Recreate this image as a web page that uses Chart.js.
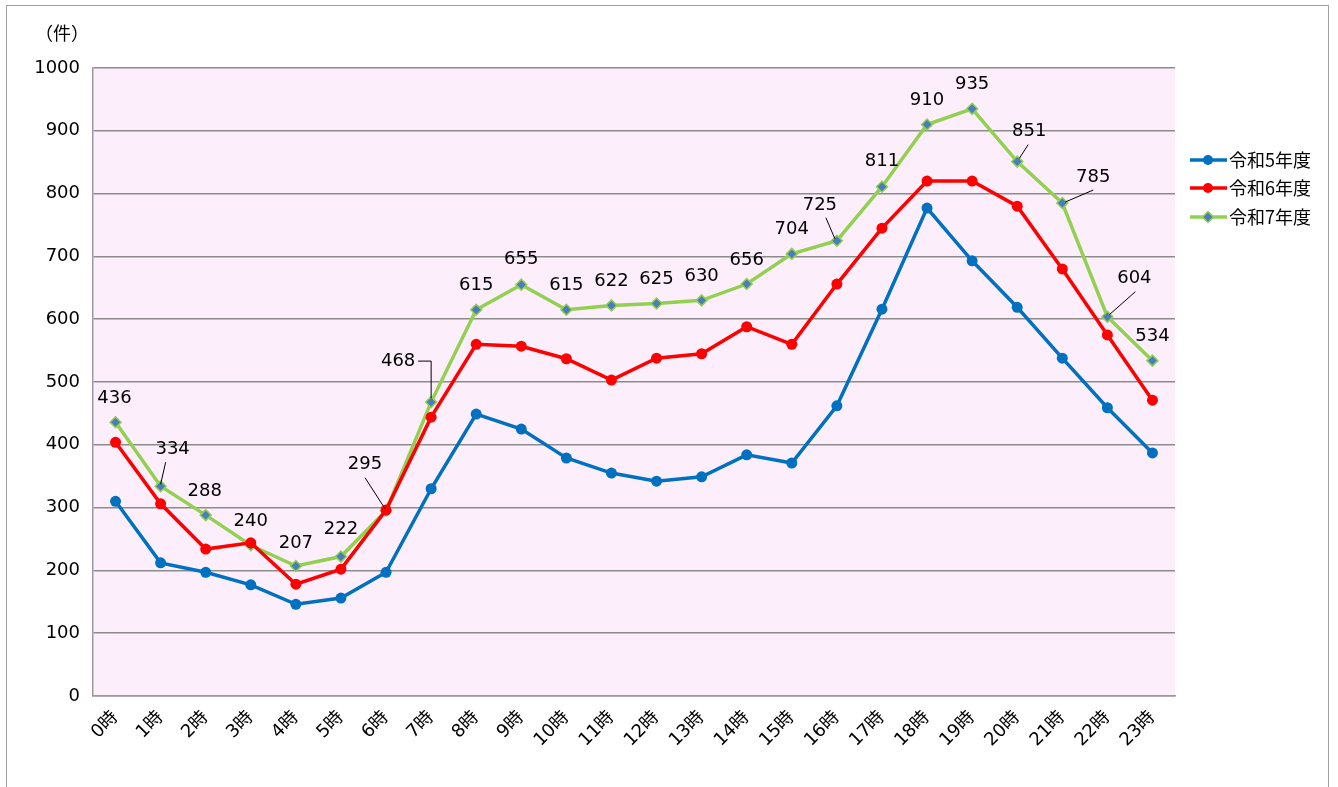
<!DOCTYPE html>
<html><head><meta charset="utf-8">
<script src="https://cdn.jsdelivr.net/npm/chart.js@4.4.1/dist/chart.umd.min.js"></script>
<style>html,body{margin:0;padding:0;background:#fff}#wrap{width:1338px;height:787px;position:relative}</style>
</head><body><div id="wrap"><canvas id="c" width="1338" height="787"></canvas></div>
<script>
const categories = ["0時","1時","2時","3時","4時","5時","6時","7時","8時","9時","10時","11時","12時","13時","14時","15時","16時","17時","18時","19時","20時","21時","22時","23時"];
const seriesNames = ["令和5年度","令和6年度","令和7年度"];
const r5 = [310,212,197,177,146,156,197,330,449,425,379,355,342,349,384,371,462,616,777,693,619,538,459,387];
const r6 = [404,306,234,244,178,202,296,444,560,557,537,503,538,545,588,560,656,745,820,820,780,680,575,471];
const r7 = [436,334,288,240,207,222,295,468,615,655,615,622,625,630,656,704,725,811,910,935,851,785,604,534];
const yTicks = [0,100,200,300,400,500,600,700,800,900,1000];
const unitLabel = "（件）";

// label offsets (dx, dy of label centre from point) and leader polylines
const labelOffsets = [[-1,-24],[12,-37],[-1,-24],[0,-24],[0,-23],[0,-27],[-21,-46],[-33,-41],[0,-24],[0,-25],[0,-24],[0,-24],[0,-24],[0,-24],[0,-24],[0,-25],[-17,-35],[0,-25],[0,-24],[0,-24],[12,-30],[31,-26],[27,-38],[0,-24]];
const leaders = {1:[[5,-24],[0,-2]],6:[[-21,-33],[-1,-2]],7:[[-13,-41],[0,-41],[0,-4]],16:[[-11,-23],[-2,-2]],20:[[11,-17],[2,-3]],21:[[31,-13],[3,-1]],22:[[28,-25],[2,-2]]};

const FONT = '"DejaVu Sans","Noto Sans CJK JP",sans-serif';
const JFONT = '"Noto Sans CJK JP",sans-serif';

const framePlugin = {
  id:'frame',
  beforeDraw(chart){
    const ctx = chart.ctx, a = chart.chartArea;
    ctx.save();
    ctx.strokeStyle = '#a0a0a0'; ctx.lineWidth = 1;
    ctx.strokeRect(6.5,5.5,1322,800);
    ctx.fillStyle = '#FDEEFC';
    ctx.fillRect(a.left,a.top,a.right-a.left,a.bottom-a.top);
    ctx.restore();
  },
  afterDraw(chart){
    const ctx = chart.ctx, a = chart.chartArea;
    ctx.save();
    ctx.fillStyle = '#000'; ctx.font = '18px '+JFONT;
    ctx.textAlign='center'; ctx.textBaseline='middle';
    ctx.fillText(unitLabel, 62, 33);
    const meta = chart.getDatasetMeta(2);
    ctx.font = '18px '+FONT;
    ctx.strokeStyle = '#000'; ctx.lineWidth = 1;
    meta.data.forEach((pt,i)=>{
      const off = labelOffsets[i];
      ctx.fillStyle='#000';
      ctx.fillText(String(r7[i]), pt.x+off[0], pt.y+off[1]);
      if (leaders[i]) {
        const L = leaders[i];
        ctx.beginPath();
        ctx.moveTo(pt.x+L[0][0], pt.y+L[0][1]);
        for (let k=1;k<L.length;k++) ctx.lineTo(pt.x+L[k][0], pt.y+L[k][1]);
        ctx.stroke();
      }
    });
    const ys = [160,188,217];
    chart.data.datasets.forEach((ds,i)=>{
      const y = ys[i];
      ctx.strokeStyle = ds.borderColor; ctx.lineWidth = 3.5;
      ctx.beginPath(); ctx.moveTo(1190,y); ctx.lineTo(1227,y); ctx.stroke();
      if (i<2){
        ctx.fillStyle = ds.pointBackgroundColor;
        ctx.beginPath(); ctx.arc(1208,y,5,0,Math.PI*2); ctx.fill();
      } else {
        ctx.fillStyle = ds.pointBackgroundColor; ctx.strokeStyle = ds.pointBorderColor; ctx.lineWidth=1.5;
        ctx.beginPath(); ctx.moveTo(1208,y-5.5); ctx.lineTo(1213.5,y); ctx.lineTo(1208,y+5.5); ctx.lineTo(1202.5,y); ctx.closePath(); ctx.fill(); ctx.stroke();
      }
      ctx.fillStyle='#000'; ctx.font='18px '+JFONT; ctx.textAlign='left';
      ctx.fillText(ds.label, 1229, y);
    });
    ctx.restore();
  }
};

new Chart(document.getElementById('c'), {
  type:'line',
  data:{
    labels: categories,
    datasets:[
      {label:seriesNames[0], data:r5, borderColor:'#0070C0', backgroundColor:'#0070C0', pointBackgroundColor:'#0070C0', pointBorderColor:'#0070C0', pointRadius:5.5, pointBorderWidth:0, borderWidth:3.5, pointStyle:'circle', tension:0},
      {label:seriesNames[1], data:r6, borderColor:'#FF0000', backgroundColor:'#FF0000', pointBackgroundColor:'#FF0000', pointBorderColor:'#FF0000', pointRadius:5.5, pointBorderWidth:0, borderWidth:3.5, pointStyle:'circle', tension:0},
      {label:seriesNames[2], data:r7, borderColor:'#92D050', backgroundColor:'#92D050', pointBackgroundColor:'#4A7EBB', pointBorderColor:'#92D050', pointRadius:5.5, pointBorderWidth:1.5, borderWidth:3.5, pointStyle:'rectRot', tension:0}
    ]
  },
  options:{
    responsive:false, animation:false,
    layout:{padding:{left:0,top:68,right:163,bottom:0}},
    plugins:{legend:{display:false}, tooltip:{enabled:false}},
    scales:{
      x:{
        offset:true,
        grid:{display:false, drawTicks:false},
        border:{display:true,color:'#9a9a9a',width:1.5},
        ticks:{color:'#000', font:{family:FONT,size:18}, minRotation:45, maxRotation:45, padding:11, autoSkip:false},
        afterFit(s){ s.height = 91; }
      },
      y:{
        min:0,max:1000,
        afterBuildTicks(s){ s.ticks = yTicks.map(v=>({value:v})); },
        grid:{color:'#8c8c8c', lineWidth:1.5, drawTicks:false},
        border:{display:true,color:'#9a9a9a',width:1.5},
        ticks:{color:'#000', font:{family:FONT,size:18}, padding:13, callback:(v)=>String(v)},
        afterFit(s){ s.width = 93; }
      }
    }
  },
  plugins:[framePlugin]
});
</script></body></html>
